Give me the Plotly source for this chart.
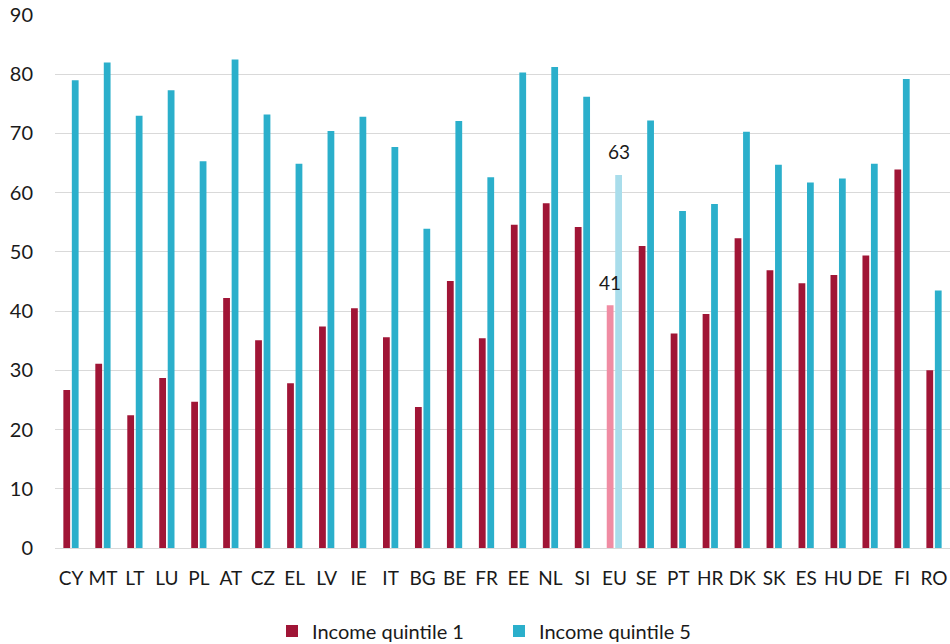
import plotly.graph_objects as go

countries = ["CY", "MT", "LT", "LU", "PL", "AT", "CZ", "EL", "LV", "IE", "IT", "BG", "BE", "FR",
             "EE", "NL", "SI", "EU", "SE", "PT", "HR", "DK", "SK", "ES", "HU", "DE", "FI", "RO"]
quintile_1 = [26.7, 31.1, 22.4, 28.7, 24.7, 42.2, 35.1, 27.8, 37.4, 40.5, 35.6, 23.8, 45.1, 35.4,
              54.6, 58.2, 54.2, 41, 51.0, 36.2, 39.5, 52.3, 46.9, 44.7, 46.1, 49.4, 63.9, 30.0]
quintile_5 = [79.0, 82.0, 73.0, 77.3, 65.3, 82.5, 73.2, 64.9, 70.4, 72.8, 67.7, 53.9, 72.1, 62.6,
              80.3, 81.2, 76.2, 63, 72.2, 56.9, 58.1, 70.3, 64.7, 61.7, 62.4, 64.9, 79.2, 43.5]
y_ticks = [0, 10, 20, 30, 40, 50, 60, 70, 80, 90]
highlight = "EU"

RED, RED_LIGHT = "#A01536", "#F08CA3"
BLUE, BLUE_LIGHT = "#2BAFCB", "#A9DDEB"
TEXT = "#1A1A1A"

red_colors = [RED_LIGHT if c == highlight else RED for c in countries]
blue_colors = [BLUE_LIGHT if c == highlight else BLUE for c in countries]

FONT = "Lato, 'Open Sans', sans-serif"

fig = go.Figure()
fig.add_trace(go.Bar(x=countries, y=quintile_1, name="Income quintile 1",
                     marker=dict(color=red_colors, line=dict(width=0))))
fig.add_trace(go.Bar(x=countries, y=quintile_5, name="Income quintile 5",
                     marker=dict(color=blue_colors, line=dict(width=0))))

# Value labels for the EU aggregate
i = countries.index(highlight)
fig.add_annotation(x=i, y=quintile_1[i], text=f"{quintile_1[i]:g}", xshift=-4, yshift=23,
                   showarrow=False, font=dict(size=19, color=TEXT, family=FONT))
fig.add_annotation(x=i, y=quintile_5[i], text=f"{quintile_5[i]:g}", xshift=5, yshift=23,
                   showarrow=False, font=dict(size=19, color=TEXT, family=FONT))

fig.update_layout(
    width=950, height=644,
    margin=dict(l=55, r=0, t=15, b=96),
    plot_bgcolor="white", paper_bgcolor="white",
    barmode="group", bargap=0.47, bargroupgap=0.2,
    font=dict(family=FONT, size=19, color=TEXT),
    showlegend=True,
    legend=dict(orientation="h", xref="container", yref="container",
                x=272 / 950, y=0.02, xanchor="left", yanchor="middle",
                font=dict(size=20, color=TEXT), traceorder="normal",
                itemwidth=30, entrywidthmode="pixels", entrywidth=182),
)
fig.update_xaxes(type="category", range=[-0.5, 27.5], showgrid=False,
                 showline=False, ticks="", ticklabelstandoff=17,
                 tickfont=dict(size=19, color=TEXT))
fig.update_yaxes(range=[0, 90], tickvals=y_ticks, showgrid=True, gridcolor="#D9D9D9",
                 gridwidth=1.3, zeroline=True, zerolinecolor="#D9D9D9", zerolinewidth=1.3,
                 showline=False, ticks="", ticklabelstandoff=21,
                 tickfont=dict(size=20, color=TEXT))

fig.write_html("out.html")
